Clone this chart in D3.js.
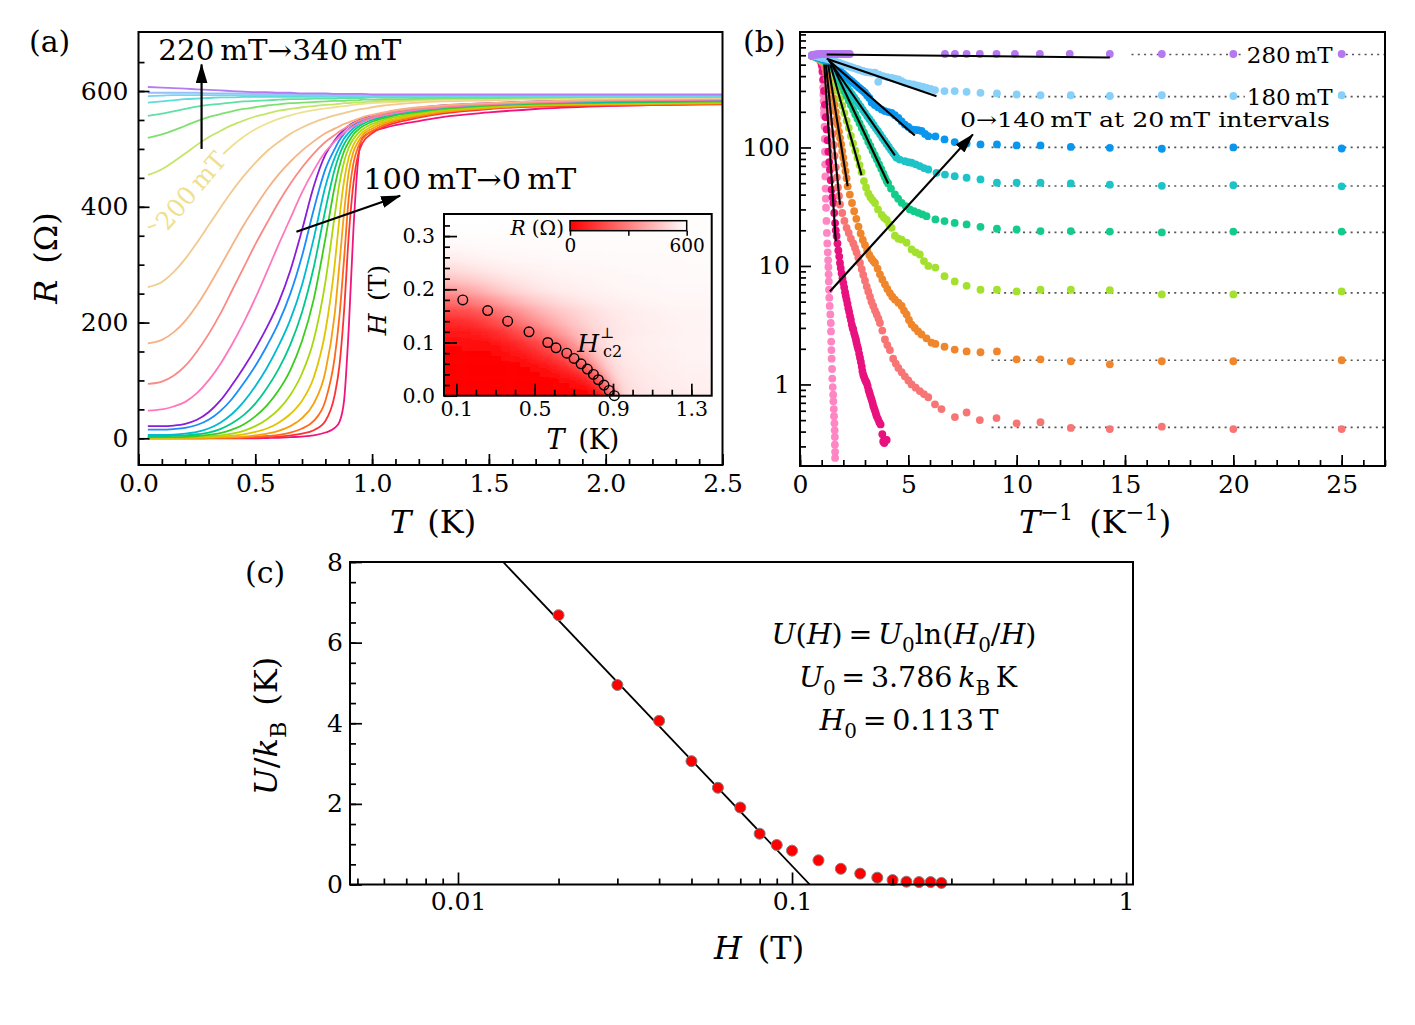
<!DOCTYPE html>
<html><head><meta charset="utf-8">
<script src="https://cdn.jsdelivr.net/npm/d3@7"></script>
<style>body{margin:0;background:#fff;} svg{display:block;}</style>
</head><body>
<svg id="fig" width="1415" height="1025"></svg>
<script>
// ---------------- DATA: panel (a) R(T) curves ----------------
const TA = [0.04,0.1,0.15,0.2,0.25,0.3,0.35,0.4,0.45,0.5,0.55,0.6,0.65,0.7,0.75,0.8,0.84,0.86,0.88,0.9,0.92,0.94,0.96,1.0,1.05,1.1,1.2,1.3,1.5,1.7,2.0,2.5];
const fieldsA = [0,10,20,30,40,50,60,70,80,90,100,120,140,160,180,200,220,240,260,280,300,320,340];
const R_0mT   = [0,0,0,0,0,0,0,0,0,0,0.5,1,2,3,5,10,18,28,65,190,360,480,520,530,536,541,548,555,563,569,574,578];
const R_10mT  = [0,0,0,0,0,0.2,0.3,0.5,0.8,1.2,2,3,5,8,14,30,75,125,220,350,440,490,511,527,538,545,554,561,569,573,575,577];
const R_20mT  = [0.3,0.3,0.3,0.3,0.4,0.5,0.7,1,1.5,2.5,4,6,10,17,30,65,140,210,310,415,475,503,518,531,541,548,556,563,570,574,576,578];
const R_30mT  = [0.5,0.5,0.5,0.6,0.8,1,1.5,2,3,5,8,13,21,35,60,115,215,300,390,460,495,512,524,535,544,550,558,564,571,575,577,579];
const R_40mT  = [1,1,1,1.2,1.5,2,3,4.5,7,11,17,27,42,65,105,185,300,380,445,485,507,520,529,539,547,552,560,566,572,576,578,580];
const R_50mT  = [1.5,1.5,1.5,2,2.5,3.5,5,8,13,21,33,50,75,112,170,270,385,440,478,502,517,527,534,543,550,555,562,567,573,577,579,581];
const R_60mT  = [2,2,2,2.5,4,6,9,15,24,38,57,83,118,168,240,345,435,470,496,512,525,533,539,547,553,558,564,569,575,578,580,582];
const R_70mT  = [4,4,4.5,5,7,10,16,26,40,60,87,120,162,218,295,395,465,490,508,521,531,538,543,550,556,560,566,571,576,579,581,583];
const R_80mT  = [6,6,6.5,8,11,17,27,42,63,90,122,160,205,265,345,435,485,503,518,528,536,542,547,553,558,562,568,572,577,580,582,584];
const R_90mT  = [15,15,16,18,23,32,47,68,95,125,160,200,250,315,395,465,500,515,526,535,541,546,550,555,560,564,569,573,578,581,583,585];
const R_100mT = [21,21,22,25,32,45,65,92,122,155,192,235,290,360,435,490,515,525,533,540,545,549,552,557,562,566,571,575,579,582,584,586];
const R_120mT = [48,50,55,63,78,100,128,162,200,242,288,335,380,425,463,495,513,521,528,534,539,543,547,553,558,562,568,572,577,580,583,585];
const R_140mT = [94,98,108,125,150,180,215,255,295,335,372,408,440,468,492,512,524,530,535,540,544,548,551,556,561,565,570,574,578,581,584,586];
const R_160mT = [164,170,183,203,230,262,297,333,368,400,430,456,478,497,513,527,535,539,543,546,549,552,555,559,563,567,572,575,579,582,585,587];
const R_180mT = [261,270,287,310,338,368,398,427,453,476,496,512,526,537,546,553,558,560,562,564,566,568,569,572,575,577,580,582,584,586,587,588];
const R_200mT = [364,375,393,415,440,464,486,505,521,534,544,552,558,563,567,570,572,573,574,575,576,577,578,579,580,581,583,584,586,587,588,589];
const R_220mT = [455,465,478,492,507,520,531,541,549,556,561,566,569,572,574,576,577,578,579,579,580,580,581,582,583,583,585,586,587,588,589,590];
const R_240mT = [519,525,532,540,548,555,560,565,569,572,575,577,579,580,581,582,583,583,583,584,584,584,585,585,586,586,587,588,588,589,590,590];
const R_260mT = [557,561,565,569,573,576,578,580,582,583,584,585,586,586,587,587,587,588,588,588,588,588,588,589,589,589,589,590,590,590,591,591];
const R_280mT = [580,582,584,586,587,588,589,589,590,590,590,590,590,590,590,590,590,590,590,590,590,590,590,590,590,590,590,591,591,591,591,591];
const R_300mT = [591,592,593,593,593,593,593,593,593,593,593,593,593,593,592,592,592,592,592,592,592,592,592,592,592,592,592,592,592,592,592,592];
const R_320mT = [597,597,597,597,597,596,596,596,596,595,595,595,595,594,594,594,594,594,594,594,594,593,593,593,593,593,593,593,593,593,593,593];
const R_340mT = [607,606,605,604,603,602,601,600,599,598,598,597,597,596,596,596,595,595,595,595,595,595,595,594,594,594,594,594,594,594,594,594];
const RA = [R_0mT,R_10mT,R_20mT,R_30mT,R_40mT,R_50mT,R_60mT,R_70mT,R_80mT,R_90mT,R_100mT,R_120mT,R_140mT,R_160mT,R_180mT,R_200mT,R_220mT,R_240mT,R_260mT,R_280mT,R_300mT,R_320mT,R_340mT];

// inset: Hc2 points
const Hc2_T = [0.133,0.26,0.362,0.471,0.567,0.609,0.664,0.701,0.737,0.769,0.80,0.825,0.854,0.88,0.907];
const Hc2_H = [0.18,0.16,0.14,0.12,0.10,0.09,0.08,0.07,0.06,0.05,0.04,0.03,0.02,0.01,0.0];

// ---------------- DATA: panel (b) R vs 1/T ----------------
const fieldsB = [0,20,40,60,80,100,120,140,180,280];
const B_0mT = [[0.55,597],[0.65,592],[0.75,582],[0.85,566],[0.92,550],[0.97,530],[1.0,505],[1.02,470],[1.04,430],[1.06,370],[1.07,320],[1.08,280],[1.09,246],[1.10,215],[1.11,195],[1.12,184],[1.13,150],[1.14,118],[1.15,92],[1.16,72],[1.17,57],[1.18,45],[1.19,37],[1.20,31],[1.22,24],[1.24,19],[1.26,15.5],[1.28,13],[1.30,11.2],[1.31,9.8],[1.32,8.5],[1.33,7.4],[1.34,6.3],[1.35,5.4],[1.37,4.6],[1.40,3.9],[1.42,3.3],[1.43,2.8],[1.44,2.3],[1.45,1.95],[1.46,1.65],[1.48,1.35],[1.49,1.12],[1.51,0.95],[1.53,0.82],[1.54,0.72],[1.56,0.62],[1.57,0.54],[1.59,0.47],[1.60,0.41],[1.61,0.36],[1.61,0.31],[1.62,0.27],[1.62,0.24]];
const B_20mT = [[0.55,596],[0.65,590],[0.75,580],[0.85,565],[0.95,540],[1.0,500],[1.04,440],[1.075,375],[1.11,300],[1.15,230],[1.19,180],[1.23,142],[1.27,115],[1.31,92],[1.35,75],[1.38,65],[1.42,53],[1.46,44],[1.50,38],[1.54,34],[1.58,28],[1.62,23],[1.65,20],[1.69,17.9],[1.73,15.5],[1.77,13.5],[1.81,12],[1.845,10.6],[1.88,9.6],[1.92,8.7],[1.96,7.9],[2.0,7.2],[2.04,6.6],[2.08,6.0],[2.11,5.6],[2.15,5.2],[2.19,4.8],[2.23,4.4],[2.27,4.1],[2.31,3.77],[2.35,3.5],[2.39,3.2],[2.43,3.0],[2.46,2.91],[2.5,2.7],[2.54,2.55],[2.58,2.4],[2.61,2.25],[2.65,2.1],[2.69,1.98],[2.73,1.82],[2.77,1.68],[2.81,1.55],[2.85,1.42],[2.88,1.3],[2.92,1.21],[2.96,1.15],[3.0,1.1],[3.04,1.06],[3.08,1.03],[3.12,0.97],[3.16,0.9],[3.2,0.86],[3.23,0.82],[3.27,0.78],[3.31,0.74],[3.35,0.7],[3.38,0.66],[3.42,0.63],[3.46,0.6],[3.50,0.57],[3.54,0.54],[3.6,0.51],[3.66,0.48],[3.72,0.46],[3.80,0.38],[3.84,0.33],[3.89,0.32],[3.95,0.34],[4.0,0.34]];
const B_40mT = [[0.55,595],[0.65,588],[0.75,578],[0.85,563],[0.95,545],[1.05,520],[1.15,470],[1.2,430],[1.25,380],[1.3,320],[1.35,260],[1.4,205],[1.45,165],[1.5,130],[1.55,105],[1.6,85],[1.65,68],[1.7,56],[1.75,46],[1.8,39],[1.845,33],[1.95,28],[2.05,24],[2.15,21],[2.25,19],[2.35,17],[2.46,15.5],[2.54,14.2],[2.61,13],[2.69,11.8],[2.77,10.6],[2.85,9.4],[2.92,8.4],[3.0,7.5],[3.08,6.7],[3.15,6.1],[3.23,5.5],[3.3,5.0],[3.38,4.6],[3.46,4.2],[3.54,3.9],[3.62,3.6],[3.69,3.3],[3.8,2.85],[3.92,2.4],[4.03,2.15],[4.15,1.95],[4.3,1.65],[4.42,1.5],[4.54,1.38],[4.69,1.27],[4.84,1.17],[5.0,1.08],[5.15,1.0],[5.34,0.94],[5.53,0.88],[5.72,0.83],[5.92,0.78],[6.23,0.68],[6.53,0.62],[7.15,0.53],[7.69,0.58],[8.3,0.5],[9.07,0.52],[10.0,0.47],[11.1,0.48],[12.5,0.43],[14.3,0.42],[16.7,0.44],[20,0.42],[25,0.42]];
const B_60mT = [[0.55,594],[0.65,586],[0.75,575],[0.85,560],[0.95,545],[1.05,530],[1.15,517],[1.25,505],[1.3,480],[1.35,440],[1.4,390],[1.45,340],[1.5,300],[1.55,260],[1.6,230],[1.65,200],[1.7,176],[1.75,155],[1.8,136],[1.85,120],[1.9,106],[1.95,93],[2.0,82],[2.05,72],[2.1,63],[2.15,55],[2.2,47],[2.3,40],[2.4,34],[2.5,29],[2.6,25],[2.7,21.5],[2.8,18.8],[2.9,16.6],[3.0,15],[3.1,13.6],[3.2,12.4],[3.3,11.5],[3.38,11],[3.46,10.6],[3.58,9.5],[3.69,8.5],[3.8,7.7],[3.92,7.0],[4.03,6.4],[4.15,5.9],[4.26,5.5],[4.38,5.2],[4.54,4.9],[4.69,4.6],[4.8,4.2],[4.92,3.9],[5.03,3.5],[5.15,3.2],[5.3,3.0],[5.45,2.8],[5.61,2.64],[5.84,2.45],[6.07,2.25],[6.25,2.2],[6.67,2.08],[7.14,1.97],[7.69,1.9],[8.33,1.87],[9.09,1.9],[10,1.63],[11.1,1.63],[12.5,1.57],[14.3,1.48],[16.7,1.57],[20,1.57],[25,1.6]];
const B_80mT = [[0.55,594],[0.65,587],[0.75,577],[0.85,565],[0.95,552],[1.05,540],[1.15,527],[1.25,515],[1.35,505],[1.45,465],[1.55,400],[1.65,345],[1.75,300],[1.85,260],[1.95,225],[2.05,195],[2.15,168],[2.25,146],[2.35,125],[2.45,108],[2.55,94],[2.65,82],[2.75,71],[2.84,62],[2.95,52],[3.05,46],[3.15,41],[3.25,38],[3.35,36],[3.46,34],[3.6,30],[3.77,27],[3.88,25.5],[4.0,24.5],[4.12,22.5],[4.23,21],[4.38,18],[4.54,17],[4.69,16.7],[4.92,15.7],[5.15,13.8],[5.34,13],[5.53,12.5],[5.72,11],[5.92,10],[6.25,9.7],[6.67,8.2],[7.14,7.4],[7.69,6.8],[8.33,6.3],[9.09,6.3],[10,6.1],[11.1,6.3],[12.5,6.3],[14.3,6.25],[16.7,5.75],[20,5.75],[25,6.1]];
const B_100mT = [[0.55,595],[0.65,588],[0.75,579],[0.85,569],[0.95,558],[1.05,546],[1.15,534],[1.25,522],[1.35,511],[1.46,498],[1.55,463],[1.65,424],[1.75,388],[1.85,355],[1.95,325],[2.05,297],[2.15,272],[2.25,249],[2.35,228],[2.45,209],[2.55,191],[2.65,175],[2.75,160],[2.85,146],[2.95,134],[3.05,123],[3.15,112],[3.25,103],[3.35,94],[3.45,86],[3.55,79],[3.65,72],[3.75,66],[3.85,60],[3.92,56],[4.0,52],[4.07,49.7],[4.2,45],[4.38,40.1],[4.53,37],[4.69,34.1],[4.88,32],[5.07,30.0],[5.26,29],[5.46,28.1],[5.65,27.2],[5.84,26.3],[6.25,24.7],[6.67,23.9],[7.14,23.1],[7.69,22.4],[8.33,21.4],[9.09,20.6],[10,20.3],[11.1,19.7],[12.5,19.7],[14.3,19.5],[16.7,19.2],[20,19.5],[25,19.5]];
const B_120mT = [[0.55,596],[0.65,590],[0.75,581],[0.85,572],[0.95,562],[1.05,552],[1.15,542],[1.25,532],[1.38,519],[1.5,483],[1.6,455],[1.7,428],[1.8,403],[1.9,379],[2.0,357],[2.1,336],[2.2,317],[2.3,298],[2.4,281],[2.5,264],[2.6,249],[2.7,234],[2.8,221],[2.9,208],[3.0,196],[3.1,184],[3.2,174],[3.3,164],[3.4,154],[3.5,145],[3.6,137],[3.7,129],[3.8,121],[3.9,114],[4.0,107],[4.1,101],[4.2,95],[4.3,90],[4.38,86],[4.46,82],[4.6,79],[4.84,76.6],[5.0,75],[5.15,74.3],[5.34,72],[5.53,69.6],[5.72,67],[5.92,65.2],[6.3,61.1],[6.69,59.1],[7.14,57.3],[7.69,55.5],[8.33,53.7],[9.09,50.4],[10,50.4],[11.1,50.4],[12.5,49.7],[14.3,48.5],[16.7,47.5],[20,48],[25,47]];
const B_140mT = [[0.55,597],[0.65,591],[0.75,583],[0.85,575],[0.95,566],[1.05,557],[1.15,548],[1.31,535],[1.45,505],[1.6,481],[1.7,464],[1.8,448],[1.9,432],[2.0,417],[2.1,402],[2.2,387],[2.3,374],[2.4,361],[2.5,348],[2.6,335],[2.7,323],[2.8,312],[2.9,301],[3.0,290],[3.1,275],[3.2,262],[3.31,240],[3.45,228],[3.6,218],[3.77,209],[3.92,203],[4.08,199],[4.23,196],[4.38,187],[4.54,178],[4.69,166],[4.84,156],[5.0,149],[5.15,142],[5.3,141],[5.45,140],[5.61,138],[5.77,130],[5.92,124.5],[6.25,124],[6.67,117],[7.14,111],[7.69,108],[8.33,106],[9.09,106],[10,104],[11.1,104],[12.5,101],[14.3,99.4],[16.7,97.5],[20,100],[25,98]];
const B_180mT = [[0.55,600],[0.65,595],[0.75,589],[0.85,582],[0.95,576],[1.05,570],[1.15,565],[1.23,561],[1.35,553],[1.5,540],[1.6,532],[1.7,524],[1.8,517],[1.9,509],[2.0,502],[2.1,495],[2.2,488],[2.3,481],[2.4,474],[2.5,468],[2.6,461],[2.7,455],[2.8,448],[2.9,442],[3.0,436],[3.1,432],[3.2,430],[3.3,428],[3.46,427],[3.61,358],[3.65,412],[3.84,400],[4.03,393],[4.23,387],[4.38,381],[4.54,375],[4.69,362],[4.84,351],[5.03,345],[5.23,340],[5.38,334],[5.53,329],[5.69,324],[5.84,319],[6.03,312],[6.23,305],[6.67,299],[7.14,299],[7.69,295],[8.33,289],[9.09,286],[10,280],[11.1,276],[12.5,276],[14.3,272],[16.7,276],[20,272],[25,276]];
const B_280mT = [[0.55,598],[0.6,603],[0.65,606],[0.7,608],[0.75,610],[0.8,611],[0.85,612],[0.9,612],[0.95,613],[1.0,613],[1.05,613],[1.1,614],[1.15,614],[1.2,614],[1.25,614],[1.3,615],[1.35,615],[1.4,615],[1.45,615],[1.5,615],[1.55,615],[1.6,615],[1.65,615],[1.7,615],[1.75,615],[1.8,615],[1.85,615],[1.9,615],[1.95,615],[2.0,615],[2.05,615],[2.1,615],[2.15,615],[2.2,615],[2.25,615],[2.3,615],[6.69,615],[7.15,615],[7.69,615],[8.3,615],[9.07,615],[9.92,615],[11.07,615],[12.45,615],[14.3,615],[16.7,615],[20,615],[25,615]];
const seriesB = [B_0mT,B_20mT,B_40mT,B_60mT,B_80mT,B_100mT,B_120mT,B_140mT,B_180mT,B_280mT];
// Arrhenius fit segments: field, 1/T start, R start, 1/T end, R end
const fitField = [280,180,140,120,100,80,60,40,20];
const fitT1 = [1.23,1.23,1.31,1.38,1.46,1.4,1.3,1.2,1.12];
const fitR1 = [609,561,546,529,512,501,501,501,501];
const fitT2 = [14.3,6.30,5.30,4.38,4.07,2.84,2.20,1.845,1.65];
const fitR2 = [575,271,126,85.6,49.7,58.4,47.1,33,16.2];
// saturation levels (dotted)
const satField = [280,180,140,120,100,80,60,40];
const satR = [609,269,100,47.3,19.2,5.92,1.60,0.434];
const satStart = [15.3,8.84,8.84,8.84,8.84,8.84,8.84,8.84];

// ---------------- DATA: panel (c) ----------------
const H_c = [0.02,0.03,0.04,0.05,0.06,0.07,0.08,0.09,0.10,0.12,0.14,0.16,0.18,0.20,0.22,0.24,0.26,0.28];
const U_c = [6.68,4.95,4.06,3.06,2.40,1.91,1.26,0.98,0.84,0.60,0.39,0.27,0.17,0.11,0.07,0.06,0.06,0.04];
const H_fit = [0.01365,0.113];
const U_fit = [8,0];

// ---------------- styles ----------------
const colorsA = ["#f0147d","#ff3232","#ff6a1a","#f5a00f","#e0c400","#a8d80c","#3ccc20","#00c98a","#00b9d2","#1a8cff","#8a1ed8",
  "#ff78be","#f98a86","#f6b184","#f2c98e","#efe08f","#c4e46a","#7fe070","#5fe0a4","#5edcd8","#79d2f7","#98bff6","#b47cf2"];
const colorsB = ["#ff85c3","#e8117f","#f87575","#f0862c","#a3e12e","#13cc8c","#1ec3c8","#0b96ee","#86d0fa","#b578f0"];
const FONT = "DejaVu Serif";

const svg = d3.select("#fig");
svg.append("rect").attr("width",1415).attr("height",1025).attr("fill","#fff");
const defs = svg.append("defs");
defs.append("marker").attr("id","arrow").attr("viewBox","0 0 20 12").attr("refX",19).attr("refY",6)
  .attr("markerWidth",20).attr("markerHeight",12).attr("markerUnits","userSpaceOnUse").attr("orient","auto")
  .append("path").attr("d","M0,0 L20,6 L0,12 Z").attr("fill","#000");

function clip(id, box){
  defs.append("clipPath").attr("id",id).append("rect")
    .attr("x",box.l).attr("y",box.t).attr("width",box.r-box.l).attr("height",box.b-box.t);
  return `url(#${id})`;
}
function axis(g, scale, orient, pos, majors, minors, fmt, o){
  const mk = orient==="left" ? d3.axisLeft : d3.axisBottom;
  const tr = orient==="left" ? `translate(${pos},0)` : `translate(0,${pos})`;
  const gm = g.append("g").attr("transform",tr)
    .call(mk(scale).tickValues(minors).tickSize(-o.minor).tickFormat("").tickSizeOuter(0));
  gm.select(".domain").remove();
  const gM = g.append("g").attr("transform",tr)
    .call(mk(scale).tickValues(majors).tickSize(-o.major).tickPadding(o.pad).tickFormat(fmt).tickSizeOuter(0));
  gM.select(".domain").remove();
  gM.selectAll("text").attr("font-family",FONT).attr("font-size",o.fs).attr("fill","#000");
  gm.selectAll("line").attr("stroke","#000").attr("stroke-width",1.7);
  gM.selectAll("line").attr("stroke","#000").attr("stroke-width",1.7);
}
function frame(g, box){
  g.append("rect").attr("x",box.l).attr("y",box.t).attr("width",box.r-box.l).attr("height",box.b-box.t)
    .attr("fill","none").attr("stroke","#000").attr("stroke-width",2);
}
function rich(g, x, y, parts, o){
  const t = g.append("text").attr("x",x).attr("y",y).attr("font-family",FONT).attr("font-size",o.fs)
    .attr("text-anchor",o.anchor||"start").attr("fill",o.fill||"#000");
  if (o.rotate) t.attr("transform",`rotate(${o.rotate},${x},${y})`);
  let shift = 0;
  parts.forEach(p=>{
    const s = t.append("tspan").text(p.t);
    if (p.it) s.attr("font-style","italic");
    let target = 0, fs = o.fs;
    if (p.sub){ target = o.fs*0.28; fs = o.fs*0.7; }
    if (p.sup){ target = -o.fs*0.42; fs = o.fs*0.7; }
    if (p.dy !== undefined) target = p.dy;
    if (p.fs) fs = p.fs;
    if (p.dx) s.attr("dx",p.dx);
    s.attr("font-size",fs);
    if (target !== shift){ s.attr("dy",target-shift); shift = target; }
  });
  return t;
}
function bgLabel(g, x, y, txt, o){
  const gg = g.append("g").attr("transform",`translate(${x},${y}) rotate(${o.rotate||0})`);
  const r = gg.append("rect").attr("fill","#fff");
  const t = gg.append("text").attr("x",0).attr("y",0).attr("text-anchor","middle").attr("dominant-baseline","central")
    .attr("font-family",FONT).attr("font-size",o.fs).attr("fill",o.fill||"#000").text(txt);
  const bb = t.node().getBBox();
  r.attr("x",bb.x-2).attr("y",-o.fs*0.42).attr("width",bb.width+4).attr("height",o.fs*0.84);
}
const thin = "\u2009", en = "\u2002";

// ================= PANEL (a) =================
const A = {l:138.5, r:722.5, t:32, b:465};
const xA = d3.scaleLinear().domain([0,2.5]).range([A.l,A.r]);
const yA = d3.scaleLinear().domain([-46.1,702]).range([A.b,A.t]);
const gA = svg.append("g");
const gAc = gA.append("g").attr("clip-path",clip("clipA",A));
const lineA = d3.line().x(d=>xA(d[0])).y(d=>yA(d[1])).curve(d3.curveMonotoneX);
fieldsA.forEach((f,i)=>{
  gAc.append("path").datum(TA.map((t,j)=>[t,RA[i][j]])).attr("d",lineA)
    .attr("fill","none").attr("stroke",colorsA[i]).attr("stroke-width",1.8);
});
axis(gA, xA, "bottom", A.b, d3.range(0,2.51,0.5), d3.range(0,2.51,0.1), d3.format(".1f"), {major:11,minor:6,pad:9,fs:25});
axis(gA, yA, "left", A.l, [0,200,400,600], d3.range(0,651,50), d3.format("d"), {major:11,minor:6,pad:10,fs:25});
frame(gA, A);

// 200 mT label along its curve
{
  const i = fieldsA.indexOf(200), Rv = RA[i];
  const lt = 0.225, j = 4;
  const f = (lt-TA[j-1])/(TA[j]-TA[j-1]);
  const lr = Rv[j-1] + f*(Rv[j]-Rv[j-1]);
  const ang = Math.atan2(yA(Rv[j+1])-yA(Rv[j-2]), xA(TA[j+1])-xA(TA[j-2]))*180/Math.PI;
  bgLabel(gA, xA(lt), yA(lr), "200"+thin+"mT", {fs:25, rotate:ang, fill:colorsA[i]});
}
// arrows & annotations
gA.append("line").attr("x1",xA(0.27)).attr("y1",yA(500)).attr("x2",xA(0.27)).attr("y2",yA(646))
  .attr("stroke","#000").attr("stroke-width",2.2).attr("marker-end","url(#arrow)");
gA.append("text").attr("x",xA(0.085)).attr("y",yA(654)).attr("font-family",FONT).attr("font-size",27)
  .attr("textLength",243).attr("lengthAdjust","spacingAndGlyphs").text("220"+thin+"mT\u2192340"+thin+"mT");
gA.append("line").attr("x1",xA(0.676)).attr("y1",yA(357)).attr("x2",xA(1.12)).attr("y2",yA(419))
  .attr("stroke","#000").attr("stroke-width",2.2).attr("marker-end","url(#arrow)");
gA.append("text").attr("x",xA(0.962)).attr("y",yA(431)).attr("font-family",FONT).attr("font-size",27)
  .attr("textLength",213).attr("lengthAdjust","spacingAndGlyphs").text("100"+thin+"mT\u21920"+thin+"mT");

// ---- inset ----
const I = {l:444, r:711.7, t:214, b:395.7};
const xI = d3.scaleLinear().domain([0.037,1.404]).range([I.l,I.r]);
const yI = d3.scaleLinear().domain([0,0.3415]).range([I.b,I.t]);
const cmap = d3.scaleLinear().domain([0,600]).range(["#ff0000","#ffffff"]).clamp(true);
const gI = svg.append("g");
gI.append("rect").attr("x",I.l).attr("y",I.t).attr("width",I.r-I.l).attr("height",I.b-I.t).attr("fill","#fff");
defs.append("filter").attr("id","blur").attr("x","-5%").attr("y","-5%").attr("width","110%").attr("height","110%")
  .append("feGaussianBlur").attr("stdDeviation","4 3.5");
const gHeat = gI.append("g").attr("clip-path",clip("clipI",I)).append("g").attr("filter","url(#blur)");
const cells = [];
fieldsA.forEach((f,i)=>{
  const h0 = i===0 ? -0.03 : (fieldsA[i-1]+f)/2000;
  const h1 = i===fieldsA.length-1 ? 0.37 : (f+fieldsA[i+1])/2000;
  TA.forEach((t,j)=>{
    const t0 = j===0 ? 0.0 : (TA[j-1]+t)/2;
    const t1 = j===TA.length-1 ? 2.5 : (t+TA[j+1])/2;
    cells.push({t0,t1,h0,h1,R:RA[i][j]});
  });
});
gHeat.selectAll("rect").data(cells).join("rect")
  .attr("x",d=>xI(d.t0)).attr("width",d=>xI(d.t1)-xI(d.t0)+0.6)
  .attr("y",d=>yI(d.h1)).attr("height",d=>yI(d.h0)-yI(d.h1)+0.6)
  .attr("fill",d=>cmap(d.R));
gI.append("g").selectAll("circle").data(Hc2_T.map((t,k)=>[t,Hc2_H[k]])).join("circle")
  .attr("cx",d=>xI(d[0])).attr("cy",d=>yI(d[1])).attr("r",4.8)
  .attr("fill","none").attr("stroke","#000").attr("stroke-width",1.4);
axis(gI, xI, "bottom", I.b, [0.1,0.5,0.9,1.3], d3.range(0.1,1.35,0.1), d3.format(".1f"), {major:12,minor:6,pad:6,fs:20.5});
axis(gI, yI, "left", I.l, [0,0.1,0.2,0.3], d3.range(0,0.33,0.02), d3.format(".1f"), {major:13,minor:6,pad:9,fs:20.5});
frame(gI, I);
// colorbar
{
  const grad = defs.append("linearGradient").attr("id","cbg").attr("x1","0%").attr("x2","100%");
  grad.append("stop").attr("offset","0%").attr("stop-color",cmap(0));
  grad.append("stop").attr("offset","100%").attr("stop-color",cmap(600));
  const xCB = d3.scaleLinear().domain([0,600]).range([570,686.7]);
  gI.append("rect").attr("x",xCB(0)).attr("y",220.7).attr("width",xCB(600)-xCB(0)).attr("height",10)
    .attr("fill","url(#cbg)").attr("stroke","#000").attr("stroke-width",1.5);
  const gcb = gI.append("g").attr("transform","translate(0,230.7)")
    .call(d3.axisBottom(xCB).tickValues([0,300,600]).tickSize(5).tickPadding(3).tickFormat(d=>d===300?"":d3.format("d")(d)).tickSizeOuter(0));
  gcb.select(".domain").remove();
  gcb.selectAll("line").attr("stroke","#000").attr("stroke-width",1.5);
  gcb.selectAll("text").attr("font-family",FONT).attr("font-size",18.5).attr("fill","#000");
  rich(gI, 564, 235, [{t:"R",it:1},{t:" (\u03a9)"}], {fs:20, anchor:"end"});
}
// Hc2 label: H with superscript ⊥ stacked over subscript c2
rich(gI, xI(0.717), yI(0.082), [{t:"H",it:1},{t:"\u22a5",fs:15,dy:-14,dx:1},{t:"c2",fs:16,dy:5,dx:-11}], {fs:25});
rich(gI, 386, 300, [{t:"H",it:1},{t:en+"(T)"}], {fs:25, anchor:"middle", rotate:-90});
rich(gI, 583, 449, [{t:"T",it:1},{t:en+"(K)"}], {fs:27, anchor:"middle"});

// axis labels (a)
rich(gA, 57, 258, [{t:"R",it:1},{t:en+"(\u03a9)"}], {fs:32, anchor:"middle", rotate:-90});
rich(gA, 433, 533, [{t:"T",it:1},{t:en+"(K)"}], {fs:32, anchor:"middle"});
svg.append("text").attr("x",29).attr("y",52).attr("font-family",FONT).attr("font-size",30).text("(a)");

// ================= PANEL (b) =================
const B = {l:800, r:1385, t:32, b:466};
const xB = d3.scaleLinear().domain([0,27]).range([B.l,B.r]);
const yB = d3.scaleLog().domain([0.205,943]).range([B.b,B.t]);
const gB = svg.append("g");
const gBc = gB.append("g").attr("clip-path",clip("clipB",B));
satField.forEach((f,k)=>{
  gBc.append("line").attr("x1",xB(satStart[k])).attr("x2",xB(27)).attr("y1",yB(satR[k])).attr("y2",yB(satR[k]))
    .attr("stroke","#555").attr("stroke-width",1.7).attr("stroke-dasharray","2,4.3");
});
seriesB.forEach((s,i)=>{
  gBc.append("g").selectAll("circle").data(s).join("circle")
    .attr("cx",d=>xB(d[0])).attr("cy",d=>yB(d[1])).attr("r",3.9).attr("fill",colorsB[i]);
});
fitField.forEach((f,k)=>{
  gBc.append("line").attr("x1",xB(fitT1[k])).attr("y1",yB(fitR1[k])).attr("x2",xB(fitT2[k])).attr("y2",yB(fitR2[k]))
    .attr("stroke","#000").attr("stroke-width",2.1);
});
bgLabel(gB, xB(22.6), yB(609), "280"+thin+"mT", {fs:23});
bgLabel(gB, xB(22.6), yB(269), "180"+thin+"mT", {fs:23});
gB.append("text").attr("x",xB(7.38)).attr("y",yB(149)).attr("font-family",FONT).attr("font-size",21)
  .attr("textLength",370).attr("lengthAdjust","spacingAndGlyphs").text("0\u2192140"+thin+"mT at 20"+thin+"mT intervals");
gB.append("line").attr("x1",xB(1.38)).attr("y1",yB(6.1)).attr("x2",xB(7.98)).attr("y2",yB(129))
  .attr("stroke","#000").attr("stroke-width",2.2).attr("marker-end","url(#arrow)");
const logMinorB = [0.3,0.4,0.5,0.6,0.7,0.8,0.9,2,3,4,5,6,7,8,9,20,30,40,50,60,70,80,90,200,300,400,500,600,700,800,900];
axis(gB, xB, "bottom", B.b, [0,5,10,15,20,25], d3.range(0,27.1,1), d3.format("d"), {major:11,minor:6,pad:9,fs:25});
axis(gB, yB, "left", B.l, [1,10,100], logMinorB, d=>String(d), {major:11,minor:6,pad:10,fs:25});
frame(gB, B);
rich(gB, 1095, 533, [{t:"T",it:1},{t:"\u22121",sup:1},{t:en+"(K"},{t:"\u22121",sup:1},{t:")"}], {fs:32, anchor:"middle"});
svg.append("text").attr("x",743).attr("y",52).attr("font-family",FONT).attr("font-size",30).text("(b)");

// ================= PANEL (c) =================
const C = {l:350, r:1133, t:562, b:884.5};
const xC = d3.scaleLog().domain([0.00475,1.049]).range([C.l,C.r]);
const yC = d3.scaleLinear().domain([0,8]).range([C.b,C.t]);
const gC = svg.append("g");
const gCc = gC.append("g").attr("clip-path",clip("clipC",C));
gCc.append("path").datum(H_fit.map((h,k)=>[h,U_fit[k]]))
  .attr("d",d3.line().x(d=>xC(d[0])).y(d=>yC(d[1])))
  .attr("stroke","#000").attr("stroke-width",1.8).attr("fill","none");
gC.append("g").selectAll("circle").data(H_c.map((h,k)=>[h,U_c[k]])).join("circle")
  .attr("cx",d=>xC(d[0])).attr("cy",d=>yC(d[1])).attr("r",5.5)
  .attr("fill","#ff0000").attr("stroke","#808080").attr("stroke-width",1);
const logMinorC = [0.005,0.006,0.007,0.008,0.009,0.02,0.03,0.04,0.05,0.06,0.07,0.08,0.09,0.2,0.3,0.4,0.5,0.6,0.7,0.8,0.9];
axis(gC, xC, "bottom", C.b, [0.01,0.1,1], logMinorC, d=>String(d), {major:12,minor:6,pad:8,fs:25});
axis(gC, yC, "left", C.l, [0,2,4,6,8], d3.range(0,8.01,0.5), d3.format("d"), {major:12,minor:6,pad:7,fs:25});
frame(gC, C);
rich(gC, 904, 644, [{t:"U",it:1},{t:"("},{t:"H",it:1},{t:")"+thin+"="+thin},{t:"U",it:1},{t:"0",sub:1},{t:"ln("},{t:"H",it:1},{t:"0",sub:1},{t:"/"},{t:"H",it:1},{t:")"}], {fs:28.5, anchor:"middle"});
rich(gC, 908, 687, [{t:"U",it:1},{t:"0",sub:1},{t:thin+"="+thin+"3.786"+thin},{t:"k",it:1},{t:"B",sub:1},{t:thin+"K"}], {fs:28.5, anchor:"middle"});
rich(gC, 909, 730, [{t:"H",it:1},{t:"0",sub:1},{t:thin+"="+thin+"0.113"+thin+"T"}], {fs:28.5, anchor:"middle"});
rich(gC, 759, 959, [{t:"H",it:1},{t:en+"(T)"}], {fs:32, anchor:"middle"});
rich(gC, 277, 726, [{t:"U",it:1},{t:"/"},{t:"k",it:1},{t:"B",sub:1},{t:en+"(K)"}], {fs:32, anchor:"middle", rotate:-90});
svg.append("text").attr("x",245).attr("y",583).attr("font-family",FONT).attr("font-size",30).text("(c)");
</script>
</body></html>
